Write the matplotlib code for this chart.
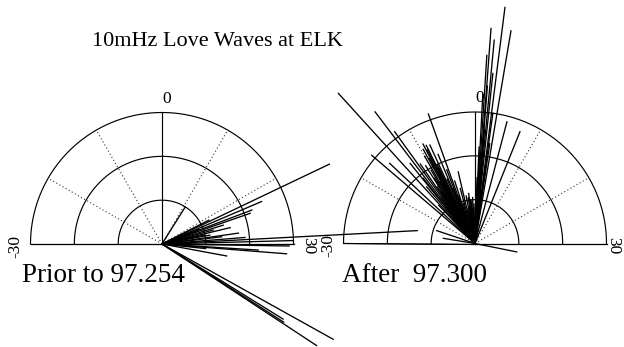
import numpy as np
import matplotlib
matplotlib.use("Agg")
import matplotlib.pyplot as plt
from matplotlib.transforms import offset_copy

plt.rcParams["font.family"] = ["Liberation Serif", "DejaVu Serif"]

title = "10mHz Love Waves at ELK"
panel_labels = ["Prior to 97.254", "After  97.300"]
dir_ticks = [-30, 0, 30]
ring_levels = [1, 2, 3]
dotted_spokes = [-20, -10, 10, 20]

# Direction (same units as the -30..30 scale) and length of each measurement
prior_dir = [21.5, 22.3, 23.1, 23.6, 10.7, 21.0, 24.3, 24.9, 27.3, 26.5,
             27.7, 26.0, 25.5, 29.0, 29.5, 30.3, 31.5, 31.2, 33.5, 32.0,
             39.7, 41.1, 40.9, 40.6, 28.5, 22.8]
prior_amp = [4.23, 2.47, 2.19, 2.13, 0.99, 1.20, 1.46, 1.21, 1.76, 1.11,
             1.37, 1.00, 1.60, 5.83, 3.00, 2.90, 2.85, 2.20, 1.50, 1.00,
             4.47, 4.22, 3.30, 3.25, 1.90, 0.90]

after_dir = [-14.1, -12.4, -11.9, -16.5, -15.6, -6.6, -9.2, -8.8, -9.6, -8.2,
             -10.0, -10.8, -11.5, -7.5, -8.5, -12.8, -13.5, -7.0, -6.0, -9.8,
             -11.0, -5.0, -4.4, -3.5, -2.8, -2.0, -1.5, -1.0, -0.5, -3.0,
             -23.8, -26.9, 33.8,
             -9.0, -9.4, -8.6, -10.3, -10.6, -11.2, -12.0, -7.8, -7.2, -6.4,
             -5.5, -4.0, -2.4, -1.8, -0.8, -13.0, -14.5,
             2.41, 1.42, 1.8, 3.2, 1.2, 2.0, 1.0, 2.6, 1.6, 4.9,
             7.3, 0.8, 1.3, 0.6, 2.2, 1.5, 2.8]
after_amp = [4.63, 3.77, 3.14, 3.10, 2.67, 3.14, 2.56, 2.50, 2.45, 2.47,
             2.30, 2.10, 2.20, 2.20, 2.00, 1.90, 1.70, 1.80, 1.50, 1.60,
             1.40, 1.30, 1.68, 1.10, 1.05, 1.00, 0.95, 1.05, 0.90, 0.85,
             0.92, 0.73, 0.97,
             2.40, 2.20, 1.90, 1.95, 1.75, 1.55, 1.30, 1.60, 1.35, 1.15,
             0.95, 0.80, 1.15, 1.00, 0.80, 2.35, 1.20,
             5.43, 4.92, 4.66, 4.92, 4.30, 3.90, 3.40, 3.00, 2.60, 2.87,
             2.75, 2.20, 1.80, 1.50, 1.20, 3.60, 2.30]

W, H = 624, 347
fig = plt.figure(figsize=(W / 100, H / 100), dpi=100)
fig.patch.set_facecolor("white")

RMAX = ring_levels[-1]


def theta(v):
    # the -30..30 scale spans the half circle
    return np.radians(np.asarray(v, dtype=float) * 3.0)


def half_polar(cx, cy, R, right_label_r):
    side = 2 * R
    left = cx - R
    bottom = (H - cy) - 0.25 * side
    ax = fig.add_axes([left / W, bottom / H, side / W, side / H],
                      projection="polar")
    ax.set_theta_zero_location("N")
    ax.set_theta_direction(-1)
    ax.set_thetamin(-90)
    ax.set_thetamax(90)
    ax.set_ylim(0, RMAX)
    ax.grid(False)
    ax.set_xticks([])
    ax.set_yticks([])
    for s in ax.spines.values():
        s.set_visible(False)
    ax.patch.set_visible(False)

    th = np.linspace(-np.pi / 2, np.pi / 2, 361)
    for r in ring_levels:
        ax.plot(th, np.full_like(th, r), color="black", lw=0.85,
                clip_on=False)
    for t in theta([-30, 0, 30]):
        ax.plot([t, t], [0, RMAX], color="black", lw=0.85, clip_on=False)
    for t in theta(dotted_spokes):
        ax.plot([t, t], [0, RMAX], color="#333333", lw=0.8,
                ls=(0, (1, 2.2)), clip_on=False)

    # scale labels
    ax.text(theta(0), RMAX + 0.31, str(dir_ticks[1]),
            transform=offset_copy(ax.transData, fig=fig, x=4.5, y=0, units="dots"),
            ha="center", va="center", fontsize=12.5, clip_on=False)
    ax.text(theta(-30), RMAX + 0.34, str(dir_ticks[0]), rotation=90,
            transform=offset_copy(ax.transData, fig=fig, x=0, y=-2, units="dots"),
            ha="center", va="center", fontsize=12.5, clip_on=False)
    ax.text(theta(30), right_label_r, str(dir_ticks[2]), rotation=-90,
            transform=offset_copy(ax.transData, fig=fig, x=0, y=-2, units="dots"),
            ha="center", va="center", fontsize=12.5, clip_on=False)
    return ax


ax_prior = half_polar(162, 244, 131.5, RMAX + 0.34)
ax_after = half_polar(475, 243.5, 131.5, RMAX + 0.15)

for ax, dirs, amps in ((ax_prior, prior_dir, prior_amp),
                       (ax_after, after_dir, after_amp)):
    for t, a in zip(theta(dirs), amps):
        ax.plot([t, t], [0, a], color="black", lw=0.95, clip_on=False,
                zorder=3)

fig.text(218 / W, 1 - 42 / H, title, ha="center", va="center", fontsize=16)
fig.text(22 / W, 1 - 275 / H, panel_labels[0], ha="left", va="center",
         fontsize=19.5)
fig.text(342 / W, 1 - 275 / H, panel_labels[1], ha="left", va="center",
         fontsize=19.5)

fig.savefig("out.png", dpi=100, facecolor="white")
